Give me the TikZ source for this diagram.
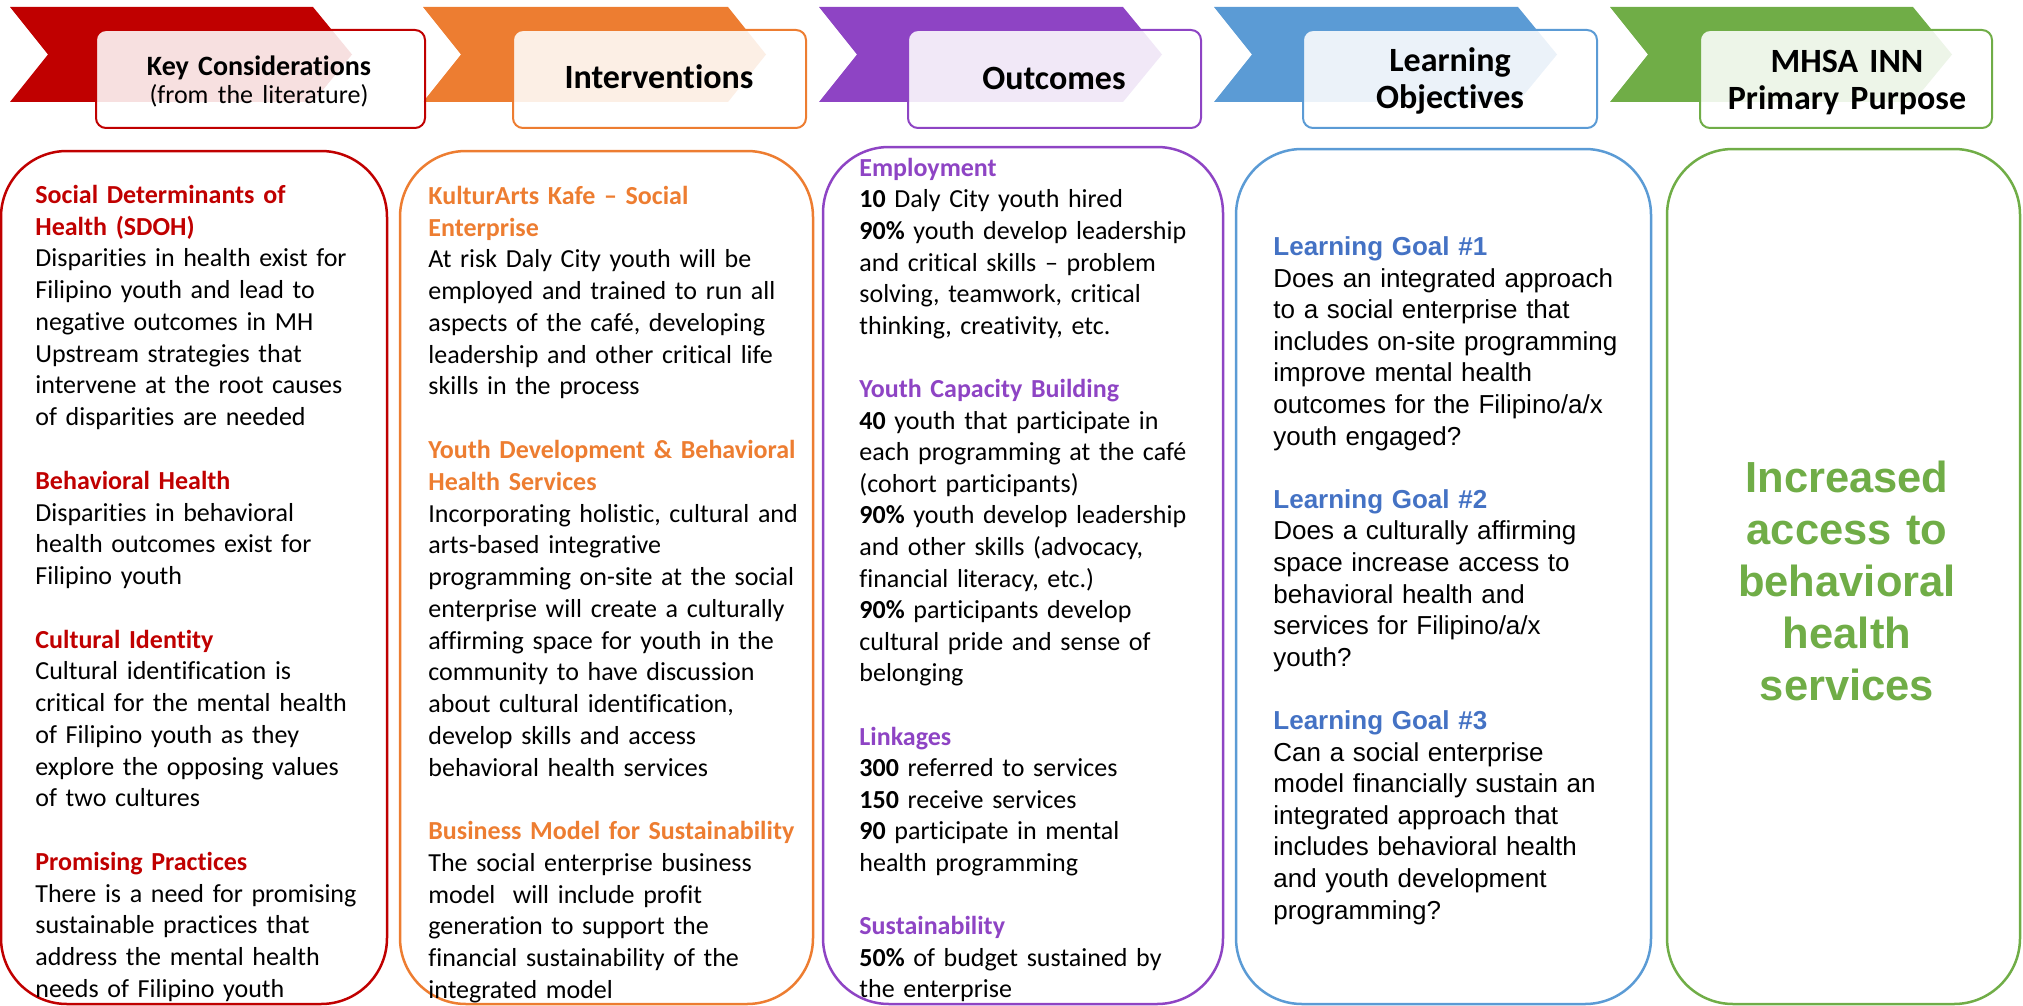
\documentclass[tikz,border=0pt]{standalone}
\usepackage{fontspec}
\setmainfont{Carlito}[Ligatures=NoCommon]
\newfontfamily\arialfont{Liberation Sans}

\definecolor{kcred}{HTML}{C00000}
\definecolor{ivorange}{HTML}{ED7D31}
\definecolor{ocpurple}{RGB}{142,68,196}
\definecolor{loblue}{HTML}{5B9BD5}
\definecolor{lohead}{HTML}{4472C4}
\definecolor{ppgreen}{HTML}{70AD47}

\newcommand{\colhead}[2]{\textcolor{#1}{\textbf{#2}}}

\begin{document}
\begin{tikzpicture}[x=0.5pt, y=-0.5pt,
    headbox/.style={fill=white, fill opacity=0.88, line width=1pt, rounded corners=5pt},
    colbox/.style={line width=1.25pt, rounded corners=33pt},
    headtext/.style={anchor=north, inner sep=0pt, align=center, text width=170pt, font=\fontsize{17}{18.5}\selectfont\bfseries},
    coltext/.style={anchor=north west, inner sep=0pt, text width=190pt, align=left, font=\fontsize{13}{15.88}\selectfont}]
    \useasboundingbox (0,0) rectangle (2023,1006);

    % Flechas de encabezado
    \fill[kcred] (10,7) -- (313,7) -- (352,54.5) -- (313,102) -- (10,102) -- (48,54.5) -- cycle;
    \fill[ivorange] (423,7) -- (728,7) -- (766,54.5) -- (728,102) -- (423,102) -- (461,54.5) -- cycle;
    \fill[ocpurple] (819,7) -- (1123,7) -- (1162,54.5) -- (1123,102) -- (819,102) -- (857,54.5) -- cycle;
    \fill[loblue] (1214,7) -- (1518,7) -- (1557,54.5) -- (1518,102) -- (1214,102) -- (1252,54.5) -- cycle;
    \fill[ppgreen] (1610,7) -- (1913,7) -- (1952,54.5) -- (1913,102) -- (1610,102) -- (1648,54.5) -- cycle;

    % Cajas de titulo
    \draw[headbox, draw=kcred] (96,30) rectangle (425,128);
    \draw[headbox, draw=ivorange] (513,30) rectangle (806,128);
    \draw[headbox, draw=ocpurple] (908,30) rectangle (1201,128);
    \draw[headbox, draw=loblue] (1303,30) rectangle (1597,128);
    \draw[headbox, draw=ppgreen] (1700,30) rectangle (1992,128);

    \node[headtext, font=\fontsize{14}{14}\selectfont\bfseries] (hdKey) at (259,55.4)
        {\strut Key Considerations\\{\mdseries\fontsize{13}{14}\selectfont (from the literature)}};
    \node[headtext] (hdInterv) at (659,62.1) {\strut Interventions};
    \node[headtext] (hdOutc) at (1054,63.1) {\strut Outcomes};
    \node[headtext] (hdLearn) at (1450,45.1) {\strut Learning\\Objectives};
    \node[headtext] (hdPurp) at (1847,46.1) {\strut MHSA INN\\Primary Purpose};

    % Columnas
    \draw[colbox, draw=kcred] (1,151) rectangle (387,1004);
    \draw[colbox, draw=ivorange] (400,151) rectangle (813,1004);
    \draw[colbox, draw=ocpurple] (823,147) rectangle (1223,1004);
    \draw[colbox, draw=loblue] (1236,149) rectangle (1651,1004);
    \draw[colbox, draw=ppgreen] (1667,149) rectangle (2020,1004);

    % Consideraciones clave
    \node[coltext] (keyText) at (35,180.8) {\strut\colhead{kcred}{Social Determinants of}\\
        \colhead{kcred}{Health (SDOH)}\\
        Disparities in health exist for\\
        Filipino youth and lead to\\
        negative outcomes in MH\\
        Upstream strategies that\\
        intervene at the root causes\\
        of disparities are needed\\[15.88pt]
        \colhead{kcred}{Behavioral Health}\\
        Disparities in behavioral\\
        health outcomes exist for\\
        Filipino youth\\[15.88pt]
        \colhead{kcred}{Cultural Identity}\\
        Cultural identification is\\
        critical for the mental health\\
        of Filipino youth as they\\
        explore the opposing values\\
        of two cultures\\[15.88pt]
        \colhead{kcred}{Promising Practices}\\
        There is a need for promising\\
        sustainable practices that\\
        address the mental health\\
        needs of Filipino youth};

    % Intervenciones
    \node[coltext] (intervText) at (428,181.8) {\strut\colhead{ivorange}{KulturArts Kafe – Social}\\
        \colhead{ivorange}{Enterprise}\\
        At risk Daly City youth will be\\
        employed and trained to run all\\
        aspects of the café, developing\\
        leadership and other critical life\\
        skills in the process\\[15.88pt]
        \colhead{ivorange}{Youth Development \& Behavioral}\\
        \colhead{ivorange}{Health Services}\\
        Incorporating holistic, cultural and\\
        arts-based integrative\\
        programming on-site at the social\\
        enterprise will create a culturally\\
        affirming space for youth in the\\
        community to have discussion\\
        about cultural identification,\\
        develop skills and access\\
        behavioral health services\\[15.88pt]
        \colhead{ivorange}{Business Model for Sustainability}\\
        The social enterprise business\\
        model~ will include profit\\
        generation to support the\\
        financial sustainability of the\\
        integrated model};

    % Resultados
    \node[coltext, font=\fontsize{13}{15.8}\selectfont] (outcText) at (859,153.8) {\strut\colhead{ocpurple}{Employment}\\
        \textbf{10} Daly City youth hired\\
        \textbf{90\%} youth develop leadership\\
        and critical skills – problem\\
        solving, teamwork, critical\\
        thinking, creativity, etc.\\[15.8pt]
        \colhead{ocpurple}{Youth Capacity Building}\\
        \textbf{40} youth that participate in\\
        each programming at the café\\
        (cohort participants)\\
        \textbf{90\%} youth develop leadership\\
        and other skills (advocacy,\\
        financial literacy, etc.)\\
        \textbf{90\%} participants develop\\
        cultural pride and sense of\\
        belonging\\[15.8pt]
        \colhead{ocpurple}{Linkages}\\
        \textbf{300} referred to services\\
        \textbf{150} receive services\\
        \textbf{90} participate in mental\\
        health programming\\[15.8pt]
        \colhead{ocpurple}{Sustainability}\\
        \textbf{50\%} of budget sustained by\\
        the enterprise};

    % Objetivos de aprendizaje
    \node[coltext, font=\fontsize{13}{15.8}\selectfont\arialfont] (learnText) at (1273,232.9) {\strut\colhead{lohead}{Learning Goal \#1}\\
        Does an integrated approach\\
        to a social enterprise that\\
        includes on-site programming\\
        improve mental health\\
        outcomes for the Filipino/a/x\\
        youth engaged?\\[15.8pt]
        \colhead{lohead}{Learning Goal \#2}\\
        Does a culturally affirming\\
        space increase access to\\
        behavioral health and\\
        services for Filipino/a/x\\
        youth?\\[15.8pt]
        \colhead{lohead}{Learning Goal \#3}\\
        Can a social enterprise\\
        model financially sustain an\\
        integrated approach that\\
        includes behavioral health\\
        and youth development\\
        programming?};

    % Proposito principal
    \node[anchor=north, inner sep=0pt, align=center, text width=170pt, text=ppgreen,
        font=\fontsize{21.75}{26}\selectfont\arialfont\bfseries] (purpText) at (1847,455.6)
        {\strut Increased\\access to\\behavioral\\health\\services};
\end{tikzpicture}
\end{document}
